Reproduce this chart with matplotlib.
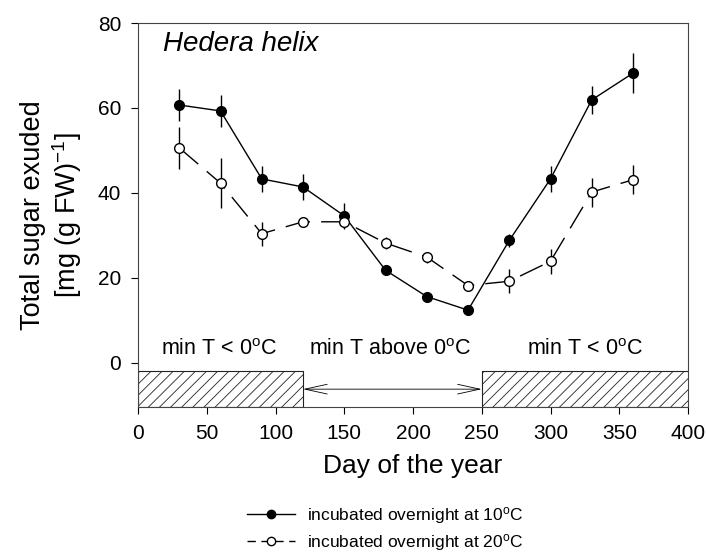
import matplotlib
matplotlib.use("Agg")
import matplotlib.pyplot as plt
from matplotlib.lines import Line2D

plt.rcParams['font.family'] = ['Liberation Sans', 'DejaVu Sans']
plt.rcParams['mathtext.fontset'] = 'custom'
plt.rcParams['mathtext.rm'] = 'Liberation Sans'
plt.rcParams['mathtext.it'] = 'Liberation Sans:italic'
plt.rcParams['hatch.linewidth'] = 0.6

# data
days = [30, 60, 90, 120, 150, 180, 210, 240, 270, 300, 330, 360]
sugar_10 = [60.7, 59.3, 43.3, 41.4, 34.6, 21.8, 15.6, 12.4, 28.8, 43.3, 61.9, 68.2]
err_10 = [3.8, 3.8, 3.0, 3.0, 3.0, 1.0, 1.0, 1.0, 1.5, 3.0, 3.3, 4.7]
sugar_20 = [50.6, 42.3, 30.4, 33.2, 33.2, 28.2, 24.9, 18.2, 19.2, 23.9, 40.2, 43.1]
err_20 = [5.0, 5.9, 2.8, 1.0, 1.5, 1.5, 1.3, 1.0, 2.8, 3.0, 3.4, 3.4]

# periods of min temperature
cold_spans = [(0, 120), (250, 410)]
warm_span = (120, 250)
period_labels = ["min T < 0$^{\\mathrm{o}}$C", "min T above 0$^{\\mathrm{o}}$C", "min T < 0$^{\\mathrm{o}}$C"]
period_x = [59, 183, 325]

fig = plt.figure(figsize=(7.06, 5.56), dpi=100)
ax = fig.add_axes([0.1955, 0.268, 0.779, 0.6906])

ax.errorbar(days, sugar_10, yerr=err_10, fmt='-', color='black', lw=1,
            elinewidth=1, capsize=0, zorder=2)
ax.plot(days, sugar_10, 'o', color='black', ms=7, zorder=3)

ax.errorbar(days, sugar_20, yerr=err_20, fmt='none', ecolor='black',
            elinewidth=1, capsize=0, zorder=2)
ax.plot(days, sugar_20, color='black', lw=1, dashes=(18, 8), zorder=2)
ax.plot(days, sugar_20, 'o', color='black', mfc='white', ms=7, zorder=3)

box_lo, box_hi = -10.4, -2.0
for x0, x1 in cold_spans:
    ax.fill_between([x0, x1], box_lo, box_hi, facecolor='white',
                    edgecolor='#222222', hatch='///', lw=0.8, zorder=1)
ax.annotate('', xy=(warm_span[0], -6.2), xytext=(warm_span[1], -6.2),
            arrowprops=dict(arrowstyle='<->,head_length=1.6,head_width=0.35',
                            lw=0.6, color='black', shrinkA=0, shrinkB=0))

for x, lab in zip(period_x, period_labels):
    ax.text(x, 3.2, lab, ha='center', va='center', fontsize=15.5)

ax.text(18, 75, 'Hedera helix', style='italic', fontsize=20, va='center')

ax.set_xlim(0, 400)
ax.set_ylim(-10.4, 80)
ax.set_xticks(range(0, 401, 50))
ax.set_yticks(range(0, 81, 20))
ax.tick_params(labelsize=15, direction='out', length=5, width=0.8, pad=7)
for s in ax.spines.values():
    s.set_linewidth(0.8)
    s.set_color('#444444')

ax.set_xlabel('Day of the year', fontsize=19, labelpad=8)
ax.set_ylabel('Total sugar exuded\n[mg (g FW)$^{-1}$]', fontsize=19.5,
              labelpad=10, linespacing=1.15)

h1 = Line2D([], [], color='black', lw=1, marker='o', ms=6)
h2 = Line2D([], [], color='black', lw=1, marker='o', ms=6, mfc='white',
            dashes=(6, 4))
fig.legend([h1, h2], ['incubated overnight at 10$^{\\mathrm{o}}$C',
                      'incubated overnight at 20$^{\\mathrm{o}}$C'],
           loc='center left', bbox_to_anchor=(0.35, 0.049), frameon=False,
           fontsize=12.5, handlelength=2.75, handletextpad=0.7,
           labelspacing=0.35, borderpad=0, borderaxespad=0)

fig.savefig('out.png', dpi=100)
